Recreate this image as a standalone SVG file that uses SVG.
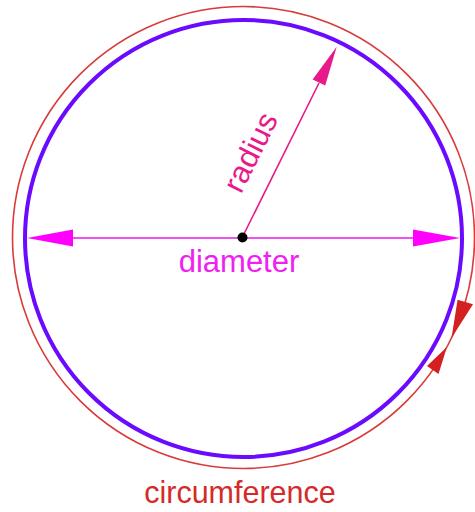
<svg xmlns="http://www.w3.org/2000/svg" width="475" height="512" viewBox="0 0 475 512">
<style>
.lbl{font-family:"Liberation Sans",Arial,sans-serif;font-size:31px;}
</style>
<rect width="475" height="512" fill="#ffffff"/>
<g id="circumference">
<circle cx="243.5" cy="237.5" r="231" fill="none" stroke="#d93a3a" stroke-width="1.6"/>
<polygon points="457.6,299.7 473,304.2 451.5,338" fill="#d42020"/>
<polygon points="446.9,347 438.5,374 427,366" fill="#d42020"/>
<text class="lbl" x="240" y="503" text-anchor="middle" fill="#d42a2a" style="font-size:30.5px">circumference</text>
</g>
<g id="circle">
<circle cx="243.5" cy="238.5" r="218.5" fill="none" stroke="#6a0aff" stroke-width="4"/>
</g>
<g id="connectors">
<g id="diameter">
<line x1="40" y1="238" x2="447" y2="238" stroke="#f050f0" stroke-width="2"/>
<polygon points="27,238 73,229.5 73,246.5" fill="#ff00ff"/>
<polygon points="460,238 413,229.5 413,246.5" fill="#ff00ff"/>
</g>
<g id="radius">
<line x1="242" y1="238" x2="319" y2="83" stroke="#e8198b" stroke-width="1.6"/>
<polygon points="336.7,46.7 325.2,85.6 312.6,79.4" fill="#e8198b"/>
</g>
</g>
<g id="labels">
<text class="lbl" x="239" y="272" text-anchor="middle" fill="#f020f0">diameter</text>
<text class="lbl" transform="translate(250,152) rotate(-63.5)" x="0" y="11" text-anchor="middle" fill="#e8198b">radius</text>
</g>
<g id="center">
<circle cx="242.5" cy="237.5" r="5" fill="#000000"/>
</g>
</svg>
